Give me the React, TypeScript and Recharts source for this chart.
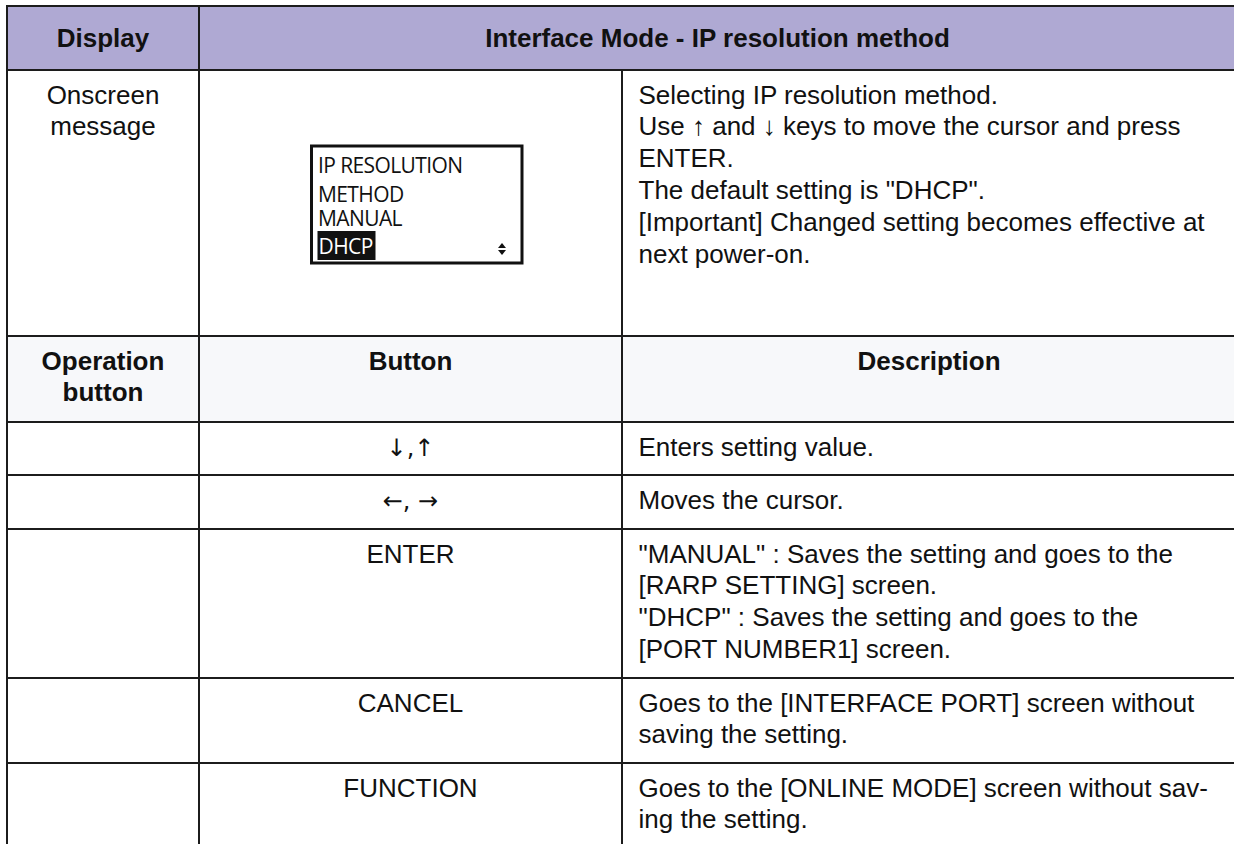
import React from 'react';
import { ComposedChart, XAxis, YAxis, ReferenceArea, ReferenceDot } from 'recharts';

// ---------- content ----------
const headerTitles = ['Display', 'Interface Mode - IP resolution method'];
const displayLabel = ['Onscreen', 'message'];
const lcdLines = ['IP RESOLUTION', 'METHOD', 'MANUAL'];
const lcdSelected = 'DHCP';
const displayDescription = [
  'Selecting IP resolution method.',
  'Use \u2191 and \u2193 keys to move the cursor and press',
  'ENTER.',
  'The default setting is "DHCP".',
  '[Important] Changed setting becomes effective at',
  'next power-on.',
];
const operationHeaders = [['Operation', 'button'], ['Button'], ['Description']];
const buttons = ['\u2193,\u2191', '\u2190, \u2192', 'ENTER', 'CANCEL', 'FUNCTION'];
const buttonDescriptions = [
  ['Enters setting value.'],
  ['Moves the cursor.'],
  [
    '"MANUAL" : Saves the setting and goes to the',
    '[RARP SETTING] screen.',
    '"DHCP" : Saves the setting and goes to the',
    '[PORT NUMBER1] screen.',
  ],
  ['Goes to the [INTERFACE PORT] screen without', 'saving the setting.'],
  ['Goes to the [ONLINE MODE] screen without sav-', 'ing the setting.'],
];

// ---------- layout ----------
const W = 1234;
const H = 844;
const COLS = [7, 199, 622, 1236];
const ROWS = [6, 70, 336, 422, 475, 529, 678, 763, 870];
const LCD = { x1: 311.5, x2: 522, y1: 146, y2: 263 };
const SEL = { x1: 317.5, x2: 375.5, y1: 231, y2: 260 };

const FONT = "'Liberation Sans', Arial, Helvetica, sans-serif";
const ARROW_FONT = "'DejaVu Sans', 'Liberation Sans', sans-serif";
const LCD_FONT = "'Open Sans', 'Noto Sans', sans-serif";
const FS = 26;
const LH = 31.8;
const LINE = '#1c1c1c';
const HEAD_FILL = '#AFA9D3';
const SUB_FILL = '#F7F8FA';

type VB = { x: number; y: number; width: number; height: number };

const CellText = (props: any) => {
  const vb: VB | undefined = props.viewBox;
  if (!vb) return null;
  const { lines, align, bold, valign, arrows } = props;
  const x0 = align === 'center' ? vb.x + vb.width / 2 : vb.x + 16.5;
  const first =
    valign === 'middle'
      ? vb.y + vb.height / 2 + 9.2 - ((lines.length - 1) * LH) / 2
      : vb.y + 33.5;
  return (
    <g>
      {lines.map((l: string, i: number) => (
        <text
          key={i}
          x={x0}
          y={first + i * LH}
          textAnchor={align === 'center' ? 'middle' : 'start'}
          fontFamily={arrows ? ARROW_FONT : FONT}
          fontSize={arrows ? 24 : FS}
          fontWeight={bold ? 700 : 400}
          fill="#111"
        >
          {l}
        </text>
      ))}
    </g>
  );
};

const LcdText = (props: any) => {
  const vb: VB | undefined = props.viewBox;
  if (!vb) return null;
  const offs = [27, 55.5, 80];
  return (
    <g>
      {lcdLines.map((l, i) => (
        <text
          key={i}
          x={vb.x + 6.5}
          y={vb.y + offs[i]}
          fontFamily={LCD_FONT}
          fontSize={21}
          letterSpacing={-0.6}
          fill="#111"
        >
          {l}
        </text>
      ))}
    </g>
  );
};

const SelText = (props: any) => {
  const vb: VB | undefined = props.viewBox;
  if (!vb) return null;
  return (
    <text
      x={vb.x + 1}
      y={vb.y + 23}
      fontFamily={LCD_FONT}
      fontSize={21}
      letterSpacing={-0.6}
      fill="#fff"
    >
      {lcdSelected}
    </text>
  );
};

const UpDown = (props: any) => {
  const { cx, cy } = props;
  if (cx == null || cy == null) return null;
  return (
    <g fill="#111">
      <path d={`M${cx - 4},${cy - 1} L${cx + 4},${cy - 1} L${cx},${cy - 6} Z`} />
      <path d={`M${cx - 4},${cy + 1} L${cx + 4},${cy + 1} L${cx},${cy + 6} Z`} />
    </g>
  );
};

const cell = (
  key: string,
  c0: number,
  c1: number,
  r0: number,
  r1: number,
  fill: string,
  label?: React.ReactElement
) => (
  <ReferenceArea
    key={key}
    x1={COLS[c0]}
    x2={COLS[c1]}
    y1={ROWS[r0]}
    y2={ROWS[r1]}
    fill={fill}
    fillOpacity={1}
    stroke={LINE}
    strokeWidth={2}
    strokeOpacity={1}
    ifOverflow="visible"
    label={label}
  />
);

export default function App() {
  const cells: React.ReactElement[] = [];
  // header row
  cells.push(cell('h0', 0, 1, 0, 1, HEAD_FILL, <CellText lines={[headerTitles[0]]} align="center" bold valign="middle" />));
  cells.push(cell('h1', 1, 3, 0, 1, HEAD_FILL, <CellText lines={[headerTitles[1]]} align="center" bold valign="middle" />));
  // onscreen row
  cells.push(cell('d0', 0, 1, 1, 2, '#fff', <CellText lines={displayLabel} align="center" />));
  cells.push(cell('d1', 1, 2, 1, 2, '#fff'));
  cells.push(cell('d2', 2, 3, 1, 2, '#fff', <CellText lines={displayDescription} align="left" />));
  // operation header
  operationHeaders.forEach((h, i) => {
    cells.push(cell('o' + i, i, i + 1, 2, 3, SUB_FILL, <CellText lines={h} align="center" bold />));
  });
  // button rows
  buttons.forEach((b, i) => {
    const r = 3 + i;
    const isArrow = /[\u2190-\u2193]/.test(b);
    cells.push(cell('b0' + i, 0, 1, r, r + 1, '#fff'));
    cells.push(cell('b1' + i, 1, 2, r, r + 1, '#fff', <CellText lines={[b]} align="center" arrows={isArrow} />));
    cells.push(cell('b2' + i, 2, 3, r, r + 1, '#fff', <CellText lines={buttonDescriptions[i]} align="left" />));
  });

  return (
    <div style={{ position: 'absolute', left: 0, top: 0, width: W, height: H, background: '#fff' }}>
      <ComposedChart width={W} height={H} data={[{ x: 0, y: 0 }]} margin={{ top: 0, right: 0, bottom: 0, left: 0 }}>
        <XAxis type="number" dataKey="x" domain={[0, W]} allowDataOverflow hide />
        <YAxis type="number" dataKey="y" domain={[0, H]} allowDataOverflow reversed hide />
        {cells}
        <ReferenceArea
          x1={LCD.x1}
          x2={LCD.x2}
          y1={LCD.y1}
          y2={LCD.y2}
          fill="#fff"
          fillOpacity={1}
          stroke="#111"
          strokeWidth={3}
          ifOverflow="visible"
          label={<LcdText />}
        />
        <ReferenceArea
          x1={SEL.x1}
          x2={SEL.x2}
          y1={SEL.y1}
          y2={SEL.y2}
          fill="#111"
          fillOpacity={1}
          ifOverflow="visible"
          label={<SelText />}
        />
        <ReferenceDot x={502} y={249} r={0} ifOverflow="visible" shape={<UpDown />} />
      </ComposedChart>
    </div>
  );
}
